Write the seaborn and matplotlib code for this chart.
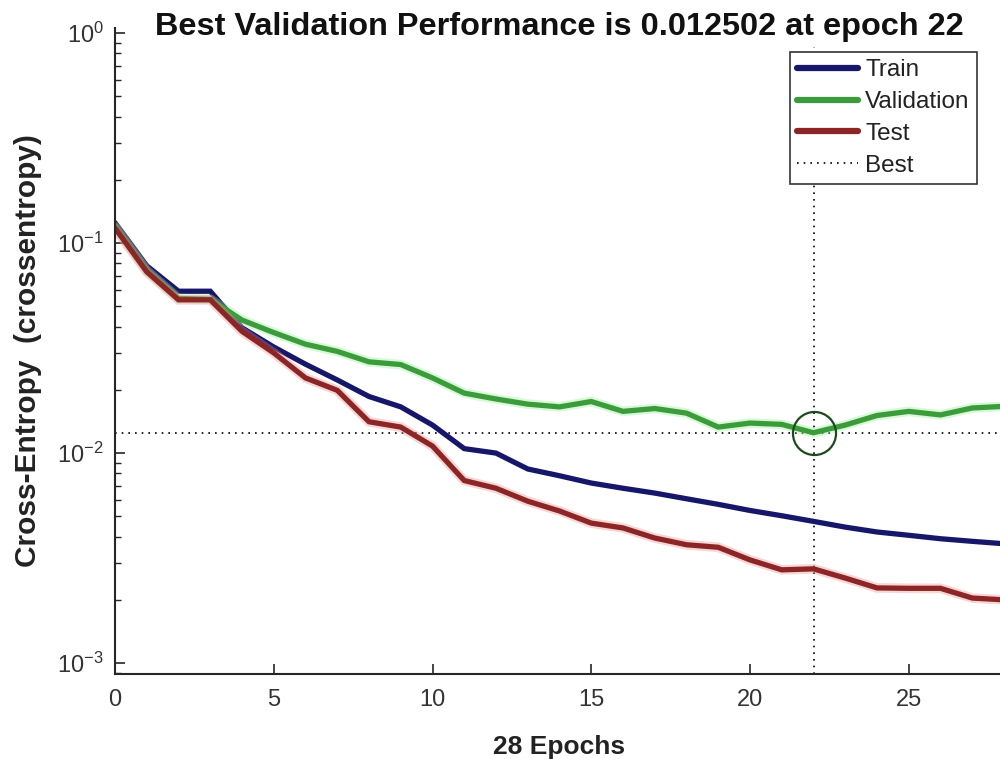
import numpy as np
import pandas as pd
import matplotlib
matplotlib.use("Agg")
import matplotlib.pyplot as plt
import matplotlib.patheffects as pe
from matplotlib.lines import Line2D
from matplotlib.ticker import LogLocator, NullFormatter
import seaborn as sns

epochs = list(range(29))
train = [0.125, 0.078, 0.059, 0.059, 0.0395, 0.032, 0.0265, 0.0223, 0.0186, 0.0166,
         0.0136, 0.0105, 0.0100, 0.0084, 0.0078, 0.0072, 0.0068, 0.00645, 0.00606, 0.0057,
         0.00533, 0.00503, 0.00473, 0.00444, 0.00421, 0.00406, 0.00391, 0.0038, 0.0037]
validation = [0.120, 0.074, 0.0545, 0.054, 0.043, 0.0375, 0.033, 0.0305, 0.0272, 0.0264,
              0.0228, 0.0193, 0.0181, 0.0171, 0.0166, 0.0176, 0.0158, 0.0163, 0.0155, 0.0133,
              0.0139, 0.0137, 0.012502, 0.0136, 0.0151, 0.0158, 0.0152, 0.0164, 0.0167]
test = [0.118, 0.073, 0.0537, 0.0537, 0.038, 0.030, 0.0228, 0.0199, 0.0141, 0.0133,
        0.0108, 0.0074, 0.0068, 0.0059, 0.0053, 0.00464, 0.0044, 0.00394, 0.00366, 0.00356,
        0.0031, 0.00278, 0.00281, 0.00254, 0.00228, 0.00227, 0.00227, 0.00204, 0.0020]
series_names = ["Train", "Validation", "Test"]
best_epoch = 22
best_value = 0.012502
xticks = [0, 5, 10, 15, 20, 25]
title_text = "Best Validation Performance is 0.012502 at epoch 22"
xlabel_text = "28 Epochs"
ylabel_text = "Cross-Entropy  (crossentropy)"

colors = {"Train": "#17176a", "Validation": "#3c9c3c", "Test": "#8c2626"}
halo = {"Train": None, "Validation": "#8ff08f", "Test": "#f08a8a"}

df = pd.DataFrame({
    "Epoch": epochs * 3,
    "value": train + validation + test,
    "series": ["Train"] * 29 + ["Validation"] * 29 + ["Test"] * 29,
})

sns.set_theme(style="white")
plt.rcParams["font.family"] = ["Liberation Sans", "DejaVu Sans"]
plt.rcParams["mathtext.fontset"] = "custom"
plt.rcParams["mathtext.rm"] = "Liberation Sans"
plt.rcParams["mathtext.default"] = "regular"

fig = plt.figure(figsize=(10, 7.59), dpi=100)
ax = fig.add_axes([0.115, 0.112, 0.889, 0.851])

sns.lineplot(data=df, x="Epoch", y="value", hue="series", hue_order=series_names,
             palette=colors, linewidth=3.8, legend=False, ax=ax)
for line, name in zip(ax.get_lines(), series_names):
    if halo[name]:
        line.set_path_effects([pe.Stroke(linewidth=7, foreground=halo[name], alpha=0.35), pe.Normal()])
    line.set_solid_joinstyle("miter")

ax.set_yscale("log")
ax.set_ylim(10 ** -3.052, 10 ** 0.024)
ax.set_xlim(0, 28)

ax.axvline(best_epoch, ymax=0.97, color="black", linestyle=(0, (1, 3)), linewidth=1.2, zorder=1)
ax.axhline(best_value, color="black", linestyle=(0, (1, 3)), linewidth=1.2, zorder=1)
ax.plot([best_epoch], [best_value], marker="o", markersize=31, markerfacecolor="none",
        markeredgecolor="#1d4a1d", markeredgewidth=1.6, linestyle="none", zorder=5)

ax.set_xticks(xticks)
ax.yaxis.set_major_locator(LogLocator(base=10, numticks=10))
ax.yaxis.set_minor_locator(LogLocator(base=10, subs=np.arange(2, 10), numticks=10))
ax.yaxis.set_minor_formatter(NullFormatter())
ax.tick_params(axis="both", which="major", direction="in", length=7, width=1.2,
               colors="#262626", labelsize=17, labelcolor="#333333")
ax.tick_params(axis="x", which="major", pad=11, bottom=True)
ax.tick_params(axis="y", which="major", pad=8, left=True)
ax.tick_params(axis="y", which="minor", direction="in", length=4, width=1.0, left=True, color="#262626")
ax.tick_params(axis="x", which="minor", bottom=False)

for side in ["top", "right"]:
    ax.spines[side].set_visible(False)
for side in ["left", "bottom"]:
    ax.spines[side].set_color("#262626")
    ax.spines[side].set_linewidth(1.5)

fig.text(0.559, 1 - 35 / 759, title_text, fontsize=23.4, fontweight="bold",
         color="#111111", ha="center", va="baseline")
ax.set_xlabel(xlabel_text, fontsize=19, fontweight="bold", color="#222222", labelpad=17)
ax.set_ylabel(ylabel_text, fontsize=21.5, fontweight="bold", color="#222222")
ax.yaxis.set_label_coords(-0.082, 0.5)

handles = [Line2D([], [], color=colors[n], linewidth=4.5) for n in series_names]
handles.append(Line2D([], [], color="black", linestyle=(0, (1, 3)), linewidth=1.2))
leg = ax.legend(handles, series_names + ["Best"], loc="upper right",
                bbox_to_anchor=(0.977, 1 - 52 / 759), bbox_transform=fig.transFigure,
                borderaxespad=0, fontsize=17.5, frameon=True, fancybox=False,
                handlelength=2.5, handletextpad=0.3, labelspacing=0.4, borderpad=0.3,
                framealpha=1)
leg.get_frame().set_edgecolor("#333333")
leg.get_frame().set_linewidth(1.2)
for t in leg.get_texts():
    t.set_color("#222222")

fig.savefig("out.png", dpi=100)
